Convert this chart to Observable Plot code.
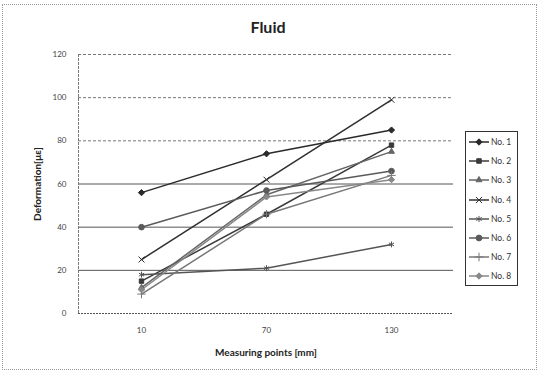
<!DOCTYPE html>
<html>
<head>
<meta charset="utf-8">
<script src="https://cdn.jsdelivr.net/npm/d3@7"></script>
<script src="https://cdn.jsdelivr.net/npm/@observablehq/plot@0.6"></script>
<style>
  html, body { margin: 0; padding: 0; background: #fff; }
  #wrap { position: relative; width: 540px; height: 374px; font-family: Lato, "Open Sans", sans-serif; }
  #border { position: absolute; left: 2px; top: 4px; width: 535px; height: 366px; border: 1px dotted #999; box-sizing: border-box; pointer-events: none; }
  #legend { position: absolute; left: 465px; top: 131px; width: 53px; height: 155px; border: 1.5px solid #333; box-sizing: border-box; background: #fff; }
  .item { position: absolute; left: 2px; height: 12px; display: flex; align-items: center; font-size: 8.5px; color: #333; }
  g[aria-label="x-axis label"] text, g[aria-label="y-axis label"] text { font-weight: bold; font-size: 10px; fill: #222; }
</style>
</head>
<body>
<div id="wrap">
  <div id="chart"></div>
  <div id="legend"></div>
  <div id="border"></div>
</div>
<script>
const categories = ["10", "70", "130"];
const seriesNames = ["No. 1", "No. 2", "No. 3", "No. 4", "No. 5", "No. 6", "No. 7", "No. 8"];
const no1 = [56, 74, 85];
const no2 = [15, 46, 78];
const no3 = [12, 55, 75];
const no4 = [25, 62, 99];
const no5 = [18, 21, 32];
const no6 = [40, 57, 66];
const no7 = [9, 46, 64];
const no8 = [11, 54, 62];
const yTicks = [0, 20, 40, 60, 80, 100, 120];
const titleText = "Fluid";
const xLabel = "Measuring points [mm]";
const yLabel = "Deformation[με]";

const seriesValues = [no1, no2, no3, no4, no5, no6, no7, no8];
const symbols = ["diamond2", "square2", "triangle2", "times", "asterisk", "circle", "plus", "diamond2"];
const grays = ["#2a2a2a", "#3a3a3a", "#666", "#2f2f2f", "#555", "#5a5a5a", "#777", "#888"];

const data = [];
seriesNames.forEach((s, i) => {
  categories.forEach((c, j) => data.push({series: s, x: c, y: seriesValues[i][j]}));
});

const chart = Plot.plot({
  width: 540,
  height: 374,
  marginLeft: 78,
  marginRight: 87,
  marginTop: 54,
  marginBottom: 61,
  x: {type: "point", domain: categories, padding: 0.5},
  y: {domain: [0, 120]},
  color: {domain: seriesNames, range: grays},
  symbol: {domain: seriesNames, range: symbols},
  style: {fontFamily: "Lato, 'Open Sans', sans-serif", fontSize: "8px", color: "#444", background: "transparent"},
  marks: [
    Plot.ruleY(yTicks.filter(d => d > 0 && d <= 60), {stroke: "#555", strokeWidth: 1}),
    Plot.ruleY(yTicks.filter(d => d > 60), {stroke: "#777", strokeWidth: 1, strokeDasharray: "3,2"}),
    Plot.ruleY([0], {stroke: "#555", strokeDasharray: "2,1"}),
    Plot.frame({anchor: "left", stroke: "#777", strokeDasharray: "2,2"}),
    Plot.axisY({ticks: yTicks, tickSize: 0, tickPadding: 12, label: yLabel, labelAnchor: "center", labelOffset: 45, labelArrow: "none"}),
    Plot.axisX({tickSize: 0, tickPadding: 14, label: xLabel, labelAnchor: "center", labelOffset: 42, labelArrow: "none"}),
    Plot.line(data, {x: "x", y: "y", z: "series", stroke: "series", strokeWidth: 1.5}),
    Plot.dot(data, {x: "x", y: "y", symbol: "series", stroke: "series", fill: "series", r: 2.8, strokeWidth: 1}),
    Plot.text([titleText], {frameAnchor: "top", lineAnchor: "middle", dy: -27, dx: 2, fontSize: 16, fontWeight: "bold", fill: "#222"})
  ]
});
document.getElementById("chart").appendChild(chart);

// Legend
const symMap = {
  diamond2: d3.symbolDiamond2, square2: d3.symbolSquare2, triangle2: d3.symbolTriangle2,
  times: d3.symbolTimes, asterisk: d3.symbolAsterisk, circle: d3.symbolCircle, plus: d3.symbolPlus
};
const legend = d3.select("#legend");
seriesNames.forEach((s, i) => {
  const item = legend.append("div").attr("class", "item").style("top", (4 + i * 19.2) + "px");
  const svg = item.append("svg").attr("width", 22).attr("height", 12);
  svg.append("line").attr("x1", 1).attr("x2", 21).attr("y1", 6).attr("y2", 6)
    .attr("stroke", grays[i]).attr("stroke-width", 1.5);
  svg.append("path").attr("transform", "translate(11,6)")
    .attr("d", d3.symbol(symMap[symbols[i]], 26)())
    .attr("fill", grays[i]).attr("stroke", grays[i]);
  item.append("span").text(s).style("margin-left", "1px");
});
</script>
</body>
</html>
